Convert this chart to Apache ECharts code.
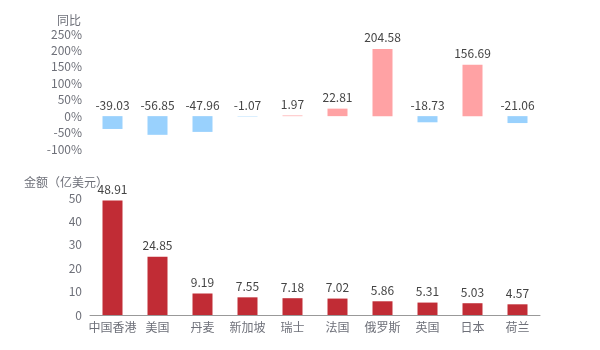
<!DOCTYPE html>
<html>
<head>
<meta charset="utf-8">
<script src="https://cdn.jsdelivr.net/npm/echarts@6/dist/echarts.min.js"></script>
<style>
  html, body { margin: 0; padding: 0; background: #fff; }
  #chart { width: 600px; height: 350px; }
</style>
</head>
<body>
<div id="chart"></div>
<script>
// categories and values
const countries = ['中国香港', '美国', '丹麦', '新加坡', '瑞士', '法国', '俄罗斯', '英国', '日本', '荷兰'];
const yoyValues = [-39.03, -56.85, -47.96, -1.07, 1.97, 22.81, 204.58, -18.73, 156.69, -21.06];
const amountValues = [48.91, 24.85, 9.19, 7.55, 7.18, 7.02, 5.86, 5.31, 5.03, 4.57];

const fontFamily = '"Noto Sans CJK SC", "Microsoft YaHei", sans-serif';
const axisColor = '#6e7079';

const chart = echarts.init(document.getElementById('chart'));
chart.setOption({
    animation: false,
    textStyle: { fontFamily },
    grid: [
        { left: 90, right: 60, top: 34, height: 115 },
        { left: 90, right: 60, top: 198, height: 117 }
    ],
    xAxis: [
        {
            type: 'category',
            gridIndex: 0,
            data: countries,
            show: false
        },
        {
            type: 'category',
            gridIndex: 1,
            data: countries,
            axisLine: { lineStyle: { color: '#999' } },
            axisTick: { alignWithLabel: true, lineStyle: { color: '#999' } },
            axisLabel: { color: axisColor, fontSize: 12, interval: 0, margin: 6 }
        }
    ],
    yAxis: [
        {
            type: 'value',
            gridIndex: 0,
            name: '同比',
            nameGap: 8,
            nameTextStyle: { color: axisColor, fontSize: 12, align: 'right', padding: [0, 9, 0, 0] },
            min: -100,
            max: 250,
            interval: 50,
            axisLine: { show: false },
            axisTick: { show: false },
            splitLine: { show: false },
            axisLabel: { color: axisColor, fontSize: 12, formatter: '{value}%' }
        },
        {
            type: 'value',
            gridIndex: 1,
            name: '金额（亿美元）',
            nameGap: 10,
            nameTextStyle: { color: axisColor, fontSize: 12, align: 'right', padding: [0, -18, 0, 0] },
            min: 0,
            max: 50,
            interval: 10,
            axisLine: { show: false },
            axisTick: { show: false },
            splitLine: { show: false },
            axisLabel: { color: axisColor, fontSize: 12 }
        }
    ],
    series: [
        {
            type: 'bar',
            xAxisIndex: 0,
            yAxisIndex: 0,
            barWidth: 20,
            data: yoyValues.map(v => ({
                value: v,
                itemStyle: { color: v >= 0 ? '#ffa2a4' : '#99d1fd' }
            })),
            label: { show: true, position: 'top', color: '#444', fontSize: 12 }
        },
        {
            type: 'bar',
            xAxisIndex: 1,
            yAxisIndex: 1,
            barWidth: 20,
            data: amountValues,
            itemStyle: { color: '#c12c35' },
            label: { show: true, position: 'top', color: '#444', fontSize: 12 }
        }
    ]
});
</script>
</body>
</html>
